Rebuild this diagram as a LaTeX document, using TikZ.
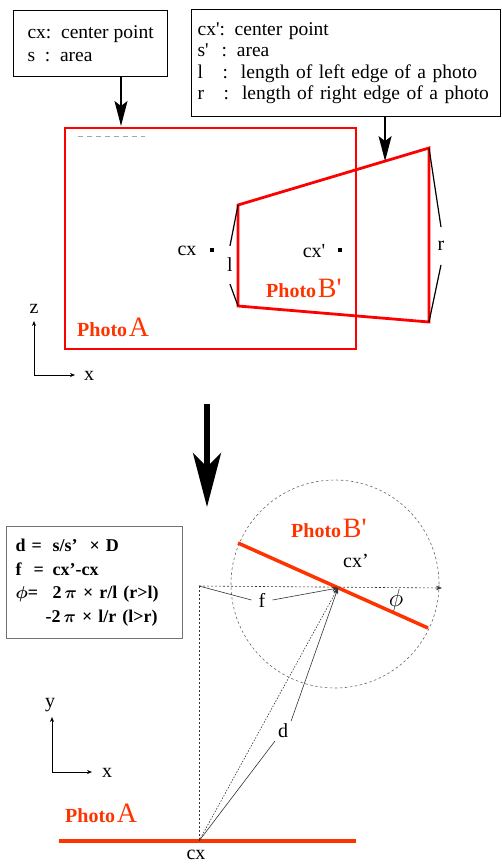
\documentclass[tikz,border=0pt]{standalone}
\usepackage{fontspec}
\setmainfont{Liberation Serif}
\usepackage{amsmath}
\usepackage{tikz}
\usetikzlibrary{arrows.meta, calc}
\usepackage{xcolor}
\definecolor{framered}{RGB}{255,0,0}
\definecolor{labelred}{RGB}{255,51,0}
\newcommand{\photolabel}[1]{{\bfseries\fontsize{20}{21}\selectfont Photo}\,{\fontsize{28}{28}\selectfont #1}}

\begin{document}
\begin{tikzpicture}[x=1pt, y=-1pt, >=Stealth,
  lbl/.style={font=\fontsize{20}{22}\selectfont, inner sep=0pt},
  infobox/.style={draw, line width=1.2pt, anchor=north west, align=left, font=\fontsize{19.5}{21.5}\selectfont},
  boxarrow/.style={line width=1.6pt, -{Stealth[length=25pt, width=13pt, inset=5pt]}},
  bigarrow/.style={line width=5.5pt, -{Stealth[length=54pt, width=28pt, inset=14pt]}},
  axisarrow/.style={line width=0.7pt, -{Stealth[length=5pt, width=4pt]}},
  frame/.style={framered, line width=2.8pt},
  bracket/.style={line width=1.2pt},
  hair/.style={line width=0.6pt, black!80},
  dashline/.style={line width=0.6pt, black!80, dash pattern=on 2pt off 2pt},
  tinytip/.style={-{Stealth[length=6pt, width=4.5pt]}}]
  \useasboundingbox (0,0) rectangle (501,864);

  % --- upper part: the two photos seen from the front
  \node[infobox, font=\fontsize{19.5}{23}\selectfont, minimum width=154pt, minimum height=66pt] (BoxA) at (13,10)
    {cx:\ \ center point\\ s\ \ :\ \ area};
  \node[infobox, minimum width=309pt, minimum height=107pt, text width=297pt, inner xsep=6pt] (BoxB) at (191,9)
    {cx\textquotesingle: center point\\
     s\textquotesingle\ \ : area\\
     l\ \ \ :\ \ length of left edge of a photo\\
     r\ \ \ :\ \ length of right edge of a photo};

  \coordinate (A_TL) at (65,128);
  \coordinate (A_BR) at (356,349);
  \draw[frame] (A_TL) rectangle (A_BR);
  \draw[black!35, line width=0.8pt, dash pattern=on 5pt off 4pt] (78,136) -- (145,136);

  \coordinate (B_TL) at (238,205);
  \coordinate (B_TR) at (429,148);
  \coordinate (B_BR) at (429,322);
  \coordinate (B_BL) at (238,306);
  \draw[frame, line join=miter] (B_TL) -- (B_TR) -- (B_BR) -- (B_BL) -- cycle;

  \coordinate (A_in) at (121,126);
  \coordinate (B_in) at ($(B_TL)!0.77!(B_TR)$);
  \draw[boxarrow] (A_in |- BoxA.south) -- (A_in);
  \draw[boxarrow] (B_in |- BoxB.south) -- (B_in);

  \coordinate (CA) at (212,250);
  \coordinate (CB) at (340,250);
  \fill (CA) +(-1.7,-1.7) rectangle +(1.7,1.7);
  \fill (CB) +(-1.7,-1.7) rectangle +(1.7,1.7);
  \node[lbl] (cxA) at (187,251) {cx};
  \node[lbl] (cxB) at (314,251) {cx\textquotesingle};

  \node[lbl, inner ysep=12pt] (lA) at (230,265) {l};
  \draw[bracket] (B_TL) -- (lA.north);
  \draw[bracket] (lA.south) -- (B_BL);
  \node[lbl, inner ysep=14pt] (rB) at (441,246) {r};
  \draw[bracket] (B_TR) -- (rB.north);
  \draw[bracket] (rB.south) -- (B_BR);

  \node[anchor=base west, inner sep=0pt, text=labelred] (photoB1) at (266,297) {\photolabel{B\textquotesingle}};
  \node[anchor=base west, inner sep=0pt, text=labelred] (photoA1) at (77,336) {\photolabel{A}};

  \coordinate (O1) at (34,375);
  \draw[axisarrow] (O1) -- (34,321);
  \draw[axisarrow] (O1) -- (75,375);
  \node[lbl] (z1) at (34,309) {z};
  \node[lbl] (x1) at (89,376) {x};

  % --- transition
  \coordinate (Big_top) at (207,404);
  \coordinate (Big_tip) at (207,507);
  \draw[bigarrow] (Big_top) -- (Big_tip);

  % --- lower part: seen from above
  \node[infobox, draw=black!55, font=\bfseries\fontsize{18}{23.7}\selectfont,
        minimum width=176pt, minimum height=112pt, text width=158pt, inner xsep=9pt] (Formulas) at (6,526)
    {\makebox[37pt][l]{d =}s/s’\ \ × D\\
     \makebox[37pt][l]{f\ \ =}cx’-cx\\
     \makebox[37pt][l]{$\boldsymbol{\phi}$=}2\,$\boldsymbol{\pi}$\ × r/l (r>l)\\
     \hspace*{30pt}-2\,$\boldsymbol{\pi}$\ × l/r (l>r)};

  \coordinate (CXA) at (199,841);
  \coordinate (CXB) at (338,588);
  \coordinate (Corner) at (199,586);
  \coordinate (HEnd) at (442,588);
  \coordinate (Circ) at (335,584);

  \draw[black!60, line width=0.6pt, dash pattern=on 2.5pt off 2.5pt] (Circ) circle (104pt);
  \draw[labelred, line width=3.5pt] (238,543) -- (428,628);
  \draw[labelred, line width=3.5pt] (59,841) -- (356,841);

  \draw[dashline, tinytip] (Corner) -- (HEnd);
  \draw[dashline] (Corner) -- (CXA);
  \draw[dashline, dash pattern=on 1.5pt off 1.5pt, tinytip] (CXA) -- (CXB);

  \node[lbl, inner xsep=7pt] (fLab) at (262,600) {f};
  \draw[hair] (Corner) -- (fLab.west);
  \draw[hair, tinytip] (fLab.east) -- (CXB);

  \node[lbl, inner sep=3pt] (dLab) at (283,731) {d};
  \draw[hair] (CXA) -- (dLab.south west);
  \draw[hair, tinytip] (dLab.north east) -- (CXB);

  \node[lbl, font=\fontsize{24}{26}\selectfont] (phiLab) at (396,600) {$\phi$};
  \node[lbl] (cxB2) at (356,561) {cx’};
  \node[lbl] (cxA2) at (196,855) {cx};

  \node[anchor=base west, inner sep=0pt, text=labelred] (photoB2) at (291,537) {\photolabel{B\textquotesingle}};
  \node[anchor=base west, inner sep=0pt, text=labelred] (photoA2) at (65,822) {\photolabel{A}};

  \coordinate (O2) at (52,772);
  \draw[axisarrow] (O2) -- (52,717);
  \draw[axisarrow] (O2) -- (92,772);
  \node[lbl] (y2) at (50,705) {y};
  \node[lbl] (x2) at (107,773) {x};
\end{tikzpicture}
\end{document}
